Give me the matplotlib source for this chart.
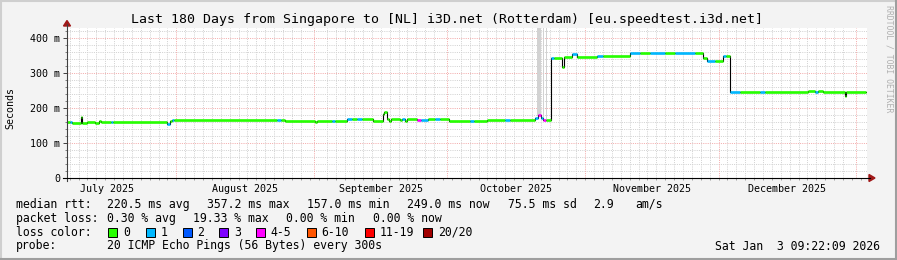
import numpy as np
import matplotlib
matplotlib.use("Agg")
import matplotlib.pyplot as plt
import matplotlib.dates as mdates
from matplotlib.lines import Line2D
from matplotlib.patches import Rectangle, Polygon
from matplotlib.ticker import MultipleLocator
from datetime import datetime, timedelta

# --- data -------------------------------------------------------------
start = datetime(2025, 7, 7, 9, 22, 9)
end = datetime(2026, 1, 3, 9, 22, 9)

# median rtt as steps: start day (from graph start), rtt in ms, loss class
seg_day = [0.0, 0.7, 1.1, 3.15, 3.4, 4.5, 6.3, 7.2, 7.65, 9.9, 10.35,
           22.5, 23.2, 23.6, 24.1, 47.25, 48.15, 49.05, 55.8, 56.25, 59.6,
           60.3, 63.0, 64.1, 65.25, 66.4, 68.85, 71.1, 71.3, 72.0, 72.45,
           72.9, 74.9, 75.4, 76.05, 76.5, 78.75, 79.65, 81.2, 82.8, 83.9,
           85.9, 90.6, 91.5, 94.5, 98.55, 99.7, 105.3, 106.0, 106.65, 107.1,
           107.8, 108.9, 109.6, 111.4, 111.85, 113.6, 114.75, 119.25, 120.6,
           126.7, 128.9, 131.2, 134.55, 136.8, 141.3, 143.1, 144.0, 145.8,
           147.6, 148.3, 149.2, 151.4, 155.9, 157.0, 166.7, 168.3, 169.0,
           170.1, 175.05, 175.3]
seg_rtt = [160, 160, 157, 173, 157, 159, 156, 163, 160, 160, 160,
           155, 164, 167, 166, 166, 166, 164, 161, 164, 164,
           164, 170, 170, 170, 170, 164, 183, 190, 168, 164,
           168, 166, 168, 162, 168, 167, 167, 169, 169, 168,
           164, 164, 164, 167, 167, 167, 172, 180, 172, 166,
           167, 344, 344, 318, 347, 353, 347, 349, 349,
           356, 356, 356, 356, 356, 356, 343, 335, 335,
           349, 349, 245, 245, 245, 245, 249, 245, 250,
           247, 235, 247]
seg_loss = [0, 1, 0, 0, 0, 0, 0, 0, 0, 1, 0,
            1, 0, 1, 0, 1, 0, 0, 0, 0, 1,
            0, 1, 0, 1, 0, 0, 0, 0, 0, 0,
            0, 0, 1, 0, 0, 4, 1, 0, 1, 0,
            0, 1, 0, 0, 1, 0, 1, 4, 1, 4,
            0, 1, 0, 0, 0, 1, 0, 1, 0,
            1, 0, 1, 0, 1, 0, 0, 1, 0,
            1, 0, 1, 0, 1, 0, 0, 1, 0,
            0, 0, 0]
last_day = 179.8

# rtt spread (smoke) that reaches the top of the graph
smoke_from = [105.7, 107.05, 107.75]
smoke_to = [106.6, 107.3, 107.95]
smoke_lo = [178, 170, 168]
smoke_hi = [430, 430, 430]

loss_names = ["0", "1", "2", "3", "4-5", "6-10", "11-19", "20/20"]
loss_colors = ["#26ff00", "#00b8ff", "#0059ff", "#7e00ff",
               "#ff00ff", "#ff5500", "#ff0000", "#a10000"]

month_labels = ["July 2025", "August 2025", "September 2025",
                "October 2025", "November 2025", "December 2025"]
y_ticks = [0, 100, 200, 300, 400]
y_labels = ["0", "100 m", "200 m", "300 m", "400 m"]

# --- figure -----------------------------------------------------------
W, H = 897, 260
mono = "DejaVu Sans Mono"
plt.rcParams["font.family"] = mono

fig = plt.figure(figsize=(W / 100, H / 100), dpi=100, facecolor="#f3f3f3")


def fx(x):
    return x / W


def fy(y):
    return 1 - y / H


ax = fig.add_axes([fx(67), fy(178), 800 / W, 150 / H])
ax.set_facecolor("white")
t0 = mdates.date2num(start)
ax.set_xlim(t0, mdates.date2num(end))
ax.set_ylim(0, 150 / 0.35)
for s in ax.spines.values():
    s.set_visible(False)

# grid, dotted
dot = (0, (1, 1.2))
gray = "#d2d2d2"
red = "#f3acac"
for y in range(20, 430, 20):
    major = y % 100 == 0
    ax.axhline(y, color=red if major else gray, ls=dot, lw=0.72, zorder=1)
d = datetime(2025, 7, 8)
minor_days = []
while d < end:
    minor_days.append(mdates.date2num(d))
    d += timedelta(days=2)
month_starts = [datetime(2025, m, 1) for m in range(8, 13)] + [datetime(2026, 1, 1)]
month_nums = [mdates.date2num(m) for m in month_starts]
for m in minor_days:
    if min(abs(m - n) for n in month_nums) > 1.5:
        ax.axvline(m, color=gray, ls=dot, lw=0.72, zorder=1)
for m in month_nums:
    ax.axvline(m, color=red, ls=dot, lw=0.72, zorder=1)

# smoke
for a, b, lo, hi in zip(smoke_from, smoke_to, smoke_lo, smoke_hi):
    ax.fill_between([t0 + a, t0 + b], lo, hi, color="#d2d2d2", lw=0, zorder=2)

# median line
t = t0 + np.array(seg_day + [last_day])
v = np.array(seg_rtt + [seg_rtt[-1]])
ax.step(t, v, where="post", color="black", lw=0.8, zorder=3)
ax.hlines(seg_rtt, t[:-1], t[1:], colors=[loss_colors[l] for l in seg_loss],
          lw=1.9, zorder=4)

# ticks
ax.set_yticks(y_ticks)
ax.set_yticklabels(y_labels)
ax.yaxis.set_minor_locator(MultipleLocator(20))
ax.tick_params(axis="y", which="major", length=3, width=0.7, color="#404040",
               pad=2, labelsize=7.2)
ax.tick_params(axis="y", which="minor", length=1.5, width=0.7, color="#808080")
mids = [datetime(2025, 7, 16, 12), datetime(2025, 8, 16, 12), datetime(2025, 9, 16),
        datetime(2025, 10, 16, 12), datetime(2025, 11, 16), datetime(2025, 12, 16, 12)]
ax.set_xticks([mdates.date2num(m) for m in mids])
ax.set_xticklabels(month_labels)
ax.set_xticks(minor_days, minor=True)
ax.tick_params(axis="x", which="major", length=0, pad=4, labelsize=7.2)
ax.tick_params(axis="x", which="minor", length=1.5, width=0.7, color="#a0a0a0")

# axes with arrows
fig.add_artist(Line2D([fx(67), fx(67)], [fy(181), fy(24)], color="#404040", lw=0.8))
fig.add_artist(Line2D([fx(63), fx(870)], [fy(178), fy(178)], color="black", lw=0.8))
fig.add_artist(Polygon([[fx(63.5), fy(26)], [fx(70.5), fy(26)], [fx(67), fy(20.5)]],
                       closed=True, color="#a01818", transform=fig.transFigure))
fig.add_artist(Polygon([[fx(869), fy(174.5)], [fx(869), fy(181.5)], [fx(875), fy(178)]],
                       closed=True, color="#a01818", transform=fig.transFigure))

# texts
fig.text(fx(447), fy(19), "Last 180 Days from Singapore to [NL] i3D.net (Rotterdam) [eu.speedtest.i3d.net]",
         ha="center", va="center", fontsize=9.5)
fig.text(fx(10.5), fy(108), "Seconds", rotation=90, ha="center", va="center", fontsize=7.2)
fig.text(fx(889), fy(59), "RRDTOOL / TOBI OETIKER", rotation=270, ha="center", va="center",
         fontsize=5.9, color="#b0b0b0")

fs = 8.3
rows = [
    (204.3, [(16, "median rtt:"), (107.3, "220.5 ms avg"), (207.3, "357.2 ms max"),
             (306.7, "157.0 ms min"), (406.7, "249.0 ms now"), (508.3, "75.5 ms sd"),
             (593.3, "2.9"), (635, "am/s")]),
    (218.3, [(16, "packet loss:"), (107.3, "0.30 % avg"), (192.7, "19.33 % max"),
             (286, "0.00 % min"), (372.7, "0.00 % now")]),
    (232.3, [(16, "loss color:")]),
    (246, [(16, "probe:"), (107.3, "20 ICMP Echo Pings (56 Bytes) every 300s")]),
]
for y, items in rows:
    for x, s in items:
        fig.text(fx(x), fy(y), s, ha="left", va="center", fontsize=fs)

box_x = [108.3, 145.7, 182.7, 219.3, 256.3, 307, 365, 423.3]
for bx, name, col in zip(box_x, loss_names, loss_colors):
    fig.add_artist(Rectangle((fx(bx), fy(237)), 9 / W, 9 / H, facecolor=col,
                             edgecolor="black", lw=0.7, transform=fig.transFigure))
    fig.text(fx(bx + 14.5), fy(232.3), name, ha="left", va="center", fontsize=fs)

fig.text(fx(880), fy(246), "Sat Jan  3 09:22:09 2026", ha="right", va="center", fontsize=fs)

# frame
fig.add_artist(Line2D([0, 1], [fy(1), fy(1)], color="#cfcfcf", lw=1.5))
fig.add_artist(Line2D([fx(1), fx(1)], [0, 1], color="#cfcfcf", lw=1.5))
fig.add_artist(Line2D([0, 1], [fy(259), fy(259)], color="#9e9e9e", lw=1.5))
fig.add_artist(Line2D([fx(896), fx(896)], [0, 1], color="#9e9e9e", lw=1.5))

fig.savefig("out.png", dpi=100, facecolor=fig.get_facecolor())
